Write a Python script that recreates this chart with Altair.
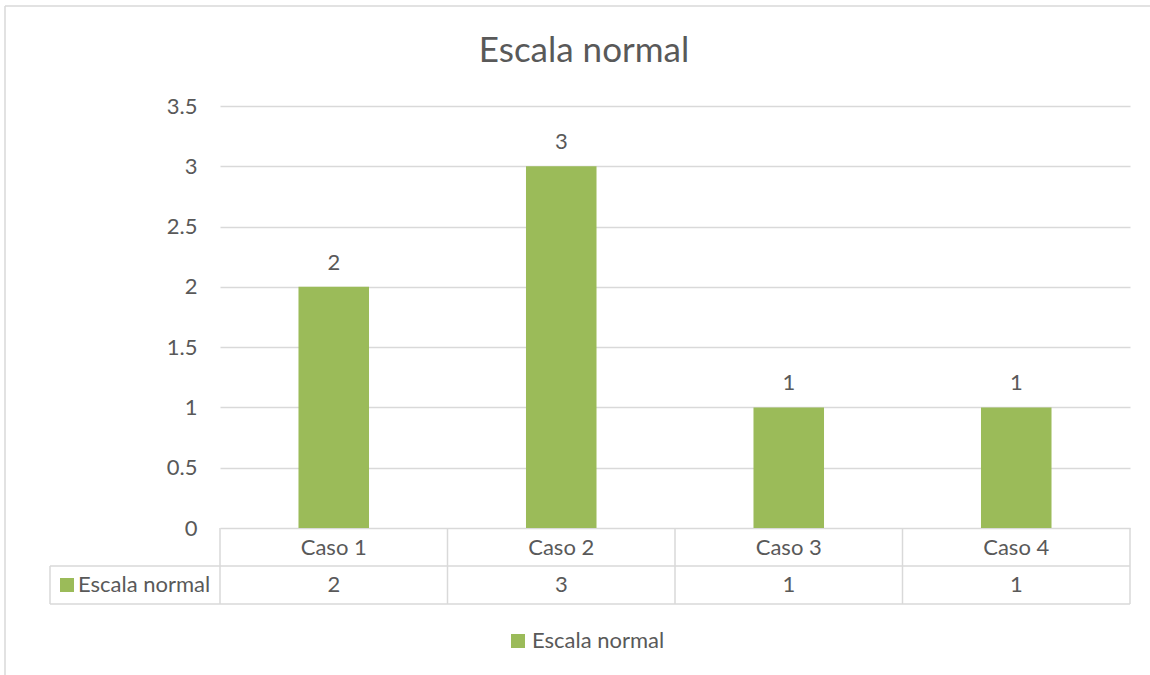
import altair as alt
import pandas as pd

categories = ["Caso 1", "Caso 2", "Caso 3", "Caso 4"]
values = [2, 3, 1, 1]
series_name = "Escala normal"
y_ticks = [0, 0.5, 1, 1.5, 2, 2.5, 3, 3.5]
title_text = "Escala normal"

df = pd.DataFrame({"caso": categories, "valor": values, "serie": [series_name] * len(categories)})
one = pd.DataFrame({"k": [0]})

FONT = "Lato"
TXT = "#595959"
GRID = "#d9d9d9"
GREEN = "#9bbb59"
FS = 22
W, H = 910, 422

xscale = alt.Scale(domain=categories, paddingInner=0, paddingOuter=0)
x = alt.X("caso:N", sort=categories, scale=xscale, axis=None)
y = alt.Y(
    "valor:Q",
    scale=alt.Scale(domain=[0, 3.5]),
    axis=alt.Axis(
        values=y_ticks, title=None, domain=False, ticks=False, grid=True,
        gridColor=GRID, gridWidth=1.3, labelFont=FONT, labelFontSize=FS,
        labelColor=TXT, labelPadding=23, labelExpr="toString(datum.value)",
    ),
)

base = alt.Chart(df)

bars = base.mark_bar(width=alt.RelativeBandSize(0.31)).encode(
    x=x,
    y=y,
    color=alt.Color(
        "serie:N",
        scale=alt.Scale(range=[GREEN]),
        legend=alt.Legend(
            orient="none", legendX=287, legendY=524, title=None,
            symbolType="square", symbolSize=196, symbolStrokeWidth=0,
            labelFont=FONT, labelFontSize=FS, labelColor=TXT, labelOffset=3,
        ),
    ),
)

bar_labels = base.mark_text(dy=-17, baseline="alphabetic", font=FONT, fontSize=FS, color=TXT).encode(
    x=x, y=y, text="valor:Q"
)

cat_labels = base.mark_text(baseline="middle", font=FONT, fontSize=FS, color=TXT).encode(
    x=x, y=alt.value(442), text="caso:N"
)
val_labels = base.mark_text(baseline="middle", font=FONT, fontSize=FS, color=TXT).encode(
    x=x, y=alt.value(479), text="valor:Q"
)

vlines = base.mark_rule(color=GRID, strokeWidth=1.5).encode(
    x=alt.X("caso:N", sort=categories, scale=xscale, axis=None, bandPosition=0),
    y=alt.value(422), y2=alt.value(498),
)

def rule(**enc):
    return alt.Chart(one).mark_rule(color=GRID, strokeWidth=1.5).encode(**enc)

table_lines = [
    rule(x=alt.value(W), y=alt.value(422), y2=alt.value(498)),
    rule(x=alt.value(-170), x2=alt.value(W), y=alt.value(460)),
    rule(x=alt.value(-170), x2=alt.value(W), y=alt.value(498)),
    rule(x=alt.value(-170), y=alt.value(460), y2=alt.value(498)),
    rule(x=alt.value(-215), x2=alt.value(930), y=alt.value(-100)),
    rule(x=alt.value(-215), y=alt.value(-100), y2=alt.value(569)),
]

tbl_square = alt.Chart(one).mark_square(size=196, color=GREEN, opacity=1, filled=True).encode(
    x=alt.value(-153), y=alt.value(479)
)
tbl_text = alt.Chart(one).mark_text(align="left", baseline="middle", font=FONT, fontSize=FS, color=TXT).encode(
    x=alt.value(-142), y=alt.value(479), text=alt.value(series_name)
)

title = alt.Chart(one).mark_text(align="center", baseline="middle", font=FONT, fontSize=35, color=TXT).encode(
    x=alt.value(364), y=alt.value(-55), text=alt.value(title_text)
)

chart = alt.layer(
    bars, bar_labels, vlines, *table_lines, cat_labels, val_labels, tbl_square, tbl_text, title
).properties(
    width=W, height=H,
    padding={"left": 220, "top": 106, "right": 20, "bottom": 147},
    autosize=alt.AutoSizeParams(type="none"),
    background="white",
).configure_view(stroke=None)

chart.save("out.html", embed_options={"renderer": "svg", "actions": False})
